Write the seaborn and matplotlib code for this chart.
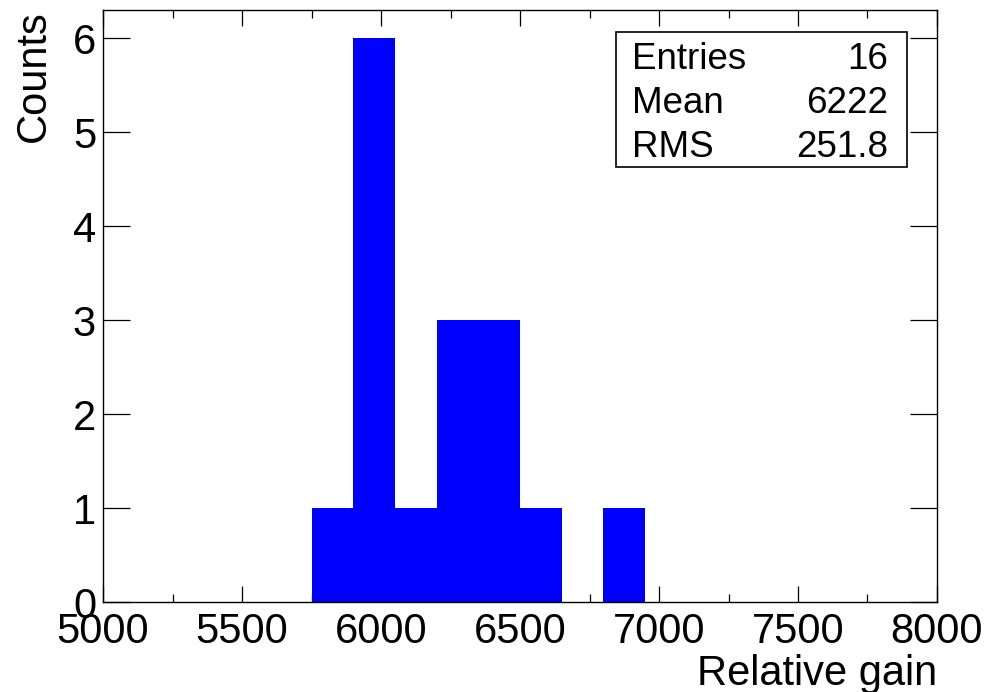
import numpy as np
import pandas as pd
import matplotlib
matplotlib.use("Agg")
import matplotlib.pyplot as plt
from matplotlib.patches import Rectangle
from matplotlib.ticker import MultipleLocator
import seaborn as sns

# ---- data ----
bin_edges = [5000 + 150 * i for i in range(21)]
bin_centers = [5825, 5975, 6125, 6275, 6425, 6575, 6725, 6875]
bin_counts = [1, 6, 1, 3, 3, 1, 0, 1]
stat_names = ["Entries", "Mean", "RMS"]
stat_values = ["16", "6222", "251.8"]
x_title = "Relative gain"
y_title = "Counts"

sns.set_style("ticks")
plt.rcParams["font.family"] = ["Liberation Sans", "DejaVu Sans"]
plt.rcParams["text.color"] = "black"
plt.rcParams["axes.labelcolor"] = "black"
plt.rcParams["xtick.color"] = "black"
plt.rcParams["ytick.color"] = "black"

W, H = 990, 692
fig = plt.figure(figsize=(W / 100, H / 100), dpi=100)
ax = fig.add_axes([103 / W, 1 - 602 / H, 834 / W, 592 / H])

df = pd.DataFrame({"x": bin_centers, "w": bin_counts})
sns.histplot(data=df, x="x", weights="w", bins=bin_edges, ax=ax,
             color="#0000ff", alpha=1.0, linewidth=0, edgecolor="none")

ax.set_xlim(5000, 8000)
ax.set_ylim(0, 6.3)
ax.xaxis.set_major_locator(MultipleLocator(500))
ax.xaxis.set_minor_locator(MultipleLocator(250))
ax.yaxis.set_major_locator(MultipleLocator(1))
ax.set_xlabel("")
ax.set_ylabel("")

for s in ax.spines.values():
    s.set_visible(True)
    s.set_linewidth(1.0)
    s.set_color("black")

ax.tick_params(axis="x", which="major", direction="in", length=11.5, width=0.9,
               top=True, bottom=True, labelsize=30, pad=7, colors="black")
ax.tick_params(axis="x", which="minor", direction="in", length=6, width=0.9,
               top=True, bottom=True, colors="black")
ax.tick_params(axis="y", which="major", direction="in", length=19.5, width=0.9,
               left=True, right=True, labelsize=30, pad=5, colors="black")

# axis titles (ROOT style: right / top aligned)
fig.text(937 / W, 1 - 685 / H, x_title, ha="right", va="baseline", fontsize=30,
         color="black")
fig.text(34 / W, 1 - 10 / H, y_title, ha="center", va="top", rotation=90,
         fontsize=30, color="black")

# stats box
box = Rectangle((616 / W, 1 - 167 / H), (907 - 616) / W, (167 - 32) / H,
                transform=fig.transFigure, facecolor="white", edgecolor="black",
                linewidth=1.2, zorder=5)
fig.patches.append(box)
baselines = [69, 113, 157]
for name, val, yb in zip(stat_names, stat_values, baselines):
    fig.text(632 / W, 1 - yb / H, name, ha="left", va="baseline", fontsize=26.5,
             color="black", zorder=6)
    fig.text(888 / W, 1 - yb / H, val, ha="right", va="baseline", fontsize=26.5,
             color="black", zorder=6)

fig.savefig("out.png", dpi=100)
